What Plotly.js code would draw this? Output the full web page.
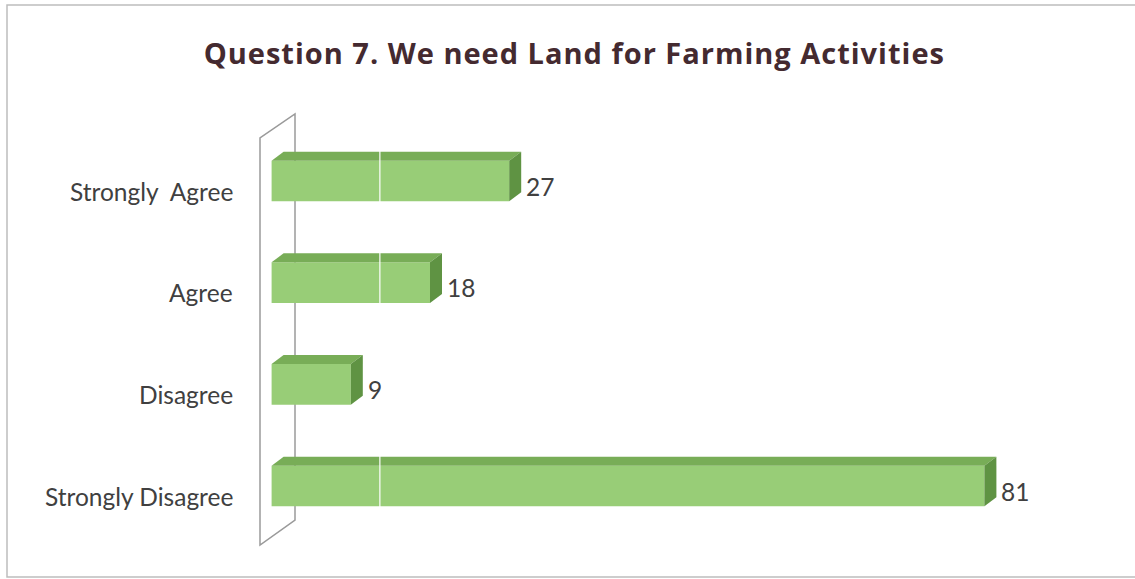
<!DOCTYPE html>
<html>
<head>
<meta charset="utf-8">
<script src="https://cdn.plot.ly/plotly-3.0.1.min.js"></script>
<style>html,body{margin:0;padding:0;background:#fff;}#chart{width:1135px;height:579px;}
.gtitle{letter-spacing:1px;}</style>
</head>
<body>
<div id="chart"></div>
<script>
// ---- data ----
const categories = ["Strongly  Agree", "Agree", "Disagree", "Strongly Disagree"];
const values = [27, 18, 9, 81];
const chartTitle = "Question 7. We need Land for Farming Activities";

// ---- geometry / style ----
const W = 1135, H = 579;
const M = {l: 254, r: 35, t: 120, b: 32};
const plotW = W - M.l - M.r, plotH = H - M.t - M.b;
const xRange = [-2, -2 + plotW / 8.8];
const yRange = [-0.6, 3.6];
const pxPerX = plotW / (xRange[1] - xRange[0]);
const pxPerY = plotH / (yRange[1] - yRange[0]);
const barW = 0.40;
const depthX = 12 / pxPerX;   // depth offset in data units
const depthY = 9 / pxPerY;

const cFront = "#98cd77", cTop = "#78ad57", cSide = "#5f9343";
const pos = categories.map((c, i) => categories.length - 1 - i);

function px2paperX(px) { return (px - M.l) / plotW; }
function px2paperY(py) { return (H - M.b - py) / plotH; }

const traces = [];
// front faces
traces.push({
  type: "bar", orientation: "h", x: values, y: pos, width: barW,
  marker: {color: cFront, line: {width: 0}}, hoverinfo: "skip", showlegend: false
});
// top & side faces
values.forEach((v, i) => {
  const y0 = pos[i] - barW / 2, y1 = pos[i] + barW / 2;
  traces.push({
    type: "scatter", mode: "lines", fill: "toself", fillcolor: cTop,
    line: {width: 0, color: cTop}, hoverinfo: "skip", showlegend: false,
    x: [0, v, v + depthX, depthX, 0],
    y: [y1, y1, y1 + depthY, y1 + depthY, y1]
  });
  traces.push({
    type: "scatter", mode: "lines", fill: "toself", fillcolor: cSide,
    line: {width: 0, color: cSide}, hoverinfo: "skip", showlegend: false,
    x: [v, v + depthX, v + depthX, v, v],
    y: [y0, y0 + depthY, y1 + depthY, y1, y0]
  });
});

const labelFont = {family: "Lato, 'Open Sans', sans-serif", size: 24.5, color: "#404040"};
const annotations = [];
categories.forEach((c, i) => {
  annotations.push({
    xref: "paper", yref: "y", x: px2paperX(235), y: pos[i], yshift: -10,
    xanchor: "right", yanchor: "middle", showarrow: false, text: c, font: labelFont
  });
  annotations.push({
    xref: "x", yref: "y", x: values[i], y: pos[i], xshift: 15, yshift: -5,
    xanchor: "left", yanchor: "middle", showarrow: false, text: String(values[i]), font: labelFont
  });
});

const shapes = [
  // outer chart border
  {type: "path", xref: "paper", yref: "paper",
   path: `M ${px2paperX(1140)} ${px2paperY(5)} L ${px2paperX(7)} ${px2paperY(5)} L ${px2paperX(7)} ${px2paperY(577)} L ${px2paperX(1140)} ${px2paperY(577)}`,
   line: {color: "#bdbdbd", width: 1.5}, layer: "below"},
  // back wall (thin 3D plane)
  {type: "path", xref: "paper", yref: "paper",
   path: `M ${px2paperX(260)} ${px2paperY(545)} L ${px2paperX(260)} ${px2paperY(138)} L ${px2paperX(295)} ${px2paperY(114)} L ${px2paperX(295)} ${px2paperY(520)} Z`,
   line: {color: "#9a9a9a", width: 1.5}, fillcolor: "rgba(0,0,0,0)", layer: "below"},
  // faint light line across bars
  {type: "line", xref: "x", yref: "paper", x0: 12.3, x1: 12.3, y0: 0, y1: 1,
   line: {color: "rgba(255,255,255,0.8)", width: 1.5}, layer: "above"}
];

const layout = {
  width: W, height: H, margin: M,
  paper_bgcolor: "#ffffff", plot_bgcolor: "rgba(0,0,0,0)",
  title: {text: "<b>" + chartTitle + "</b>", x: 0.506, xanchor: "center", y: 0.907, yanchor: "middle",
          font: {family: "'Open Sans', Lato, sans-serif", size: 29, color: "#442a30"}},
  xaxis: {range: xRange, showgrid: false, zeroline: false, showticklabels: false, showline: false, fixedrange: true},
  yaxis: {range: yRange, showgrid: false, zeroline: false, showticklabels: false, showline: false, fixedrange: true},
  barmode: "overlay", showlegend: false,
  annotations: annotations, shapes: shapes
};

Plotly.newPlot("chart", traces, layout, {displayModeBar: false, staticPlot: true});
</script>
</body>
</html>
